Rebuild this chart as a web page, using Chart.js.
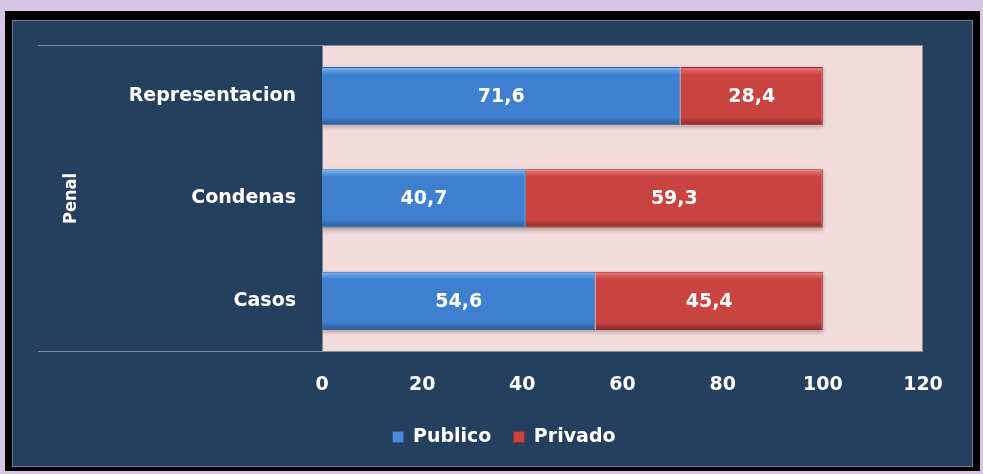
<!DOCTYPE html>
<html>
<head>
<meta charset="utf-8">
<script src="https://cdn.jsdelivr.net/npm/chart.js@4"></script>
<style>
  html, body { margin: 0; padding: 0; background: #d9c6e6; }
  #chart { display: block; }
</style>
</head>
<body>
<canvas id="chart" width="983" height="474"></canvas>
<script>
// Chart data
const categories = ['Representacion', 'Condenas', 'Casos'];
const groupLabel = 'Penal';
const publico = [71.6, 40.7, 54.6];
const privado = [28.4, 59.3, 45.4];
const seriesNames = ['Publico', 'Privado'];

const NAVY = '#25405f';
const PINK = '#f2dcdb';
const FONT = "'DejaVu Sans', Verdana, sans-serif";

// vertical bevel-like gradient for each bar
function barFill(light, body, dark) {
  return (ctx) => {
    const chart = ctx.chart;
    const yScale = chart.scales.y;
    if (!chart.chartArea || !yScale || ctx.dataIndex === undefined) return body;
    const yc = yScale.getPixelForValue(ctx.dataIndex);
    const half = (yScale.height / categories.length) * 0.57 / 2;
    const g = chart.ctx.createLinearGradient(0, yc - half, 0, yc + half);
    g.addColorStop(0, light);
    g.addColorStop(0.13, body);
    g.addColorStop(0.86, body);
    g.addColorStop(1, dark);
    return g;
  };
}

// frame, plot background, category lines and group label
const framePlugin = {
  id: 'frame',
  beforeDraw(chart) {
    const c = chart.ctx;
    const { left, right, top, bottom } = chart.chartArea;
    c.save();
    c.fillStyle = '#d9c6e6';
    c.fillRect(0, 0, chart.width, chart.height);
    c.fillStyle = '#000';
    c.fillRect(5, 11, 975, 460);
    c.fillStyle = NAVY;
    c.fillRect(12, 20, 961, 447);
    c.strokeStyle = '#6f7a9a';
    c.lineWidth = 1;
    c.strokeRect(12.5, 20.5, 960, 446);

    c.fillStyle = PINK;
    c.fillRect(left, top, right - left, bottom - top);
    c.strokeStyle = '#8a8a98';
    c.strokeRect(left + 0.5, top + 0.5, right - left - 1, bottom - top - 1);

    c.strokeStyle = '#7f8aa3';
    c.beginPath();
    c.moveTo(38, top + 0.5); c.lineTo(left, top + 0.5);
    c.moveTo(38, bottom - 0.5); c.lineTo(left, bottom - 0.5);
    c.stroke();

    c.translate(71, (top + bottom) / 2);
    c.rotate(-Math.PI / 2);
    c.fillStyle = '#fff';
    c.font = "bold 18px 'Liberation Sans Narrow', 'DejaVu Sans Condensed', sans-serif";
    c.textAlign = 'center';
    c.textBaseline = 'middle';
    c.fillText(groupLabel, 0, 0);
    c.restore();
  },
  beforeDatasetsDraw(chart) {
    // soft shadow under the bars
    const c = chart.ctx;
    c.save();
    c.shadowColor = 'rgba(60, 40, 40, 0.35)';
    c.shadowBlur = 4;
    c.shadowOffsetY = 2;
    c.fillStyle = PINK;
    chart.getDatasetMeta(0).data.forEach((bar, i) => {
      const last = chart.getDatasetMeta(1).data[i];
      c.fillRect(bar.base, bar.y - bar.height / 2, last.x - bar.base, bar.height);
    });
    c.restore();
  }
};

// value labels in the middle of each segment
const valueLabels = {
  id: 'valueLabels',
  afterDatasetsDraw(chart) {
    const c = chart.ctx;
    c.save();
    c.fillStyle = '#fff';
    c.font = 'bold 19px ' + FONT;
    c.textAlign = 'center';
    c.textBaseline = 'middle';
    chart.data.datasets.forEach((ds, di) => {
      chart.getDatasetMeta(di).data.forEach((bar, i) => {
        const x = (bar.x + bar.base) / 2;
        c.fillText(ds.data[i].toFixed(1).replace('.', ','), x, bar.y + 1);
      });
    });
    c.restore();
  }
};

new Chart(document.getElementById('chart'), {
  type: 'bar',
  data: {
    labels: categories,
    datasets: [
      {
        label: seriesNames[0],
        data: publico,
        backgroundColor: barFill('#7ab6f4', '#3f7fcf', '#2c5a95'),
        borderColor: '#2f609f',
        borderWidth: 1,
        barPercentage: 1,
        categoryPercentage: 0.57
      },
      {
        label: seriesNames[1],
        data: privado,
        backgroundColor: barFill('#f27e7a', '#c94341', '#8c2a29'),
        borderColor: '#8c2a29',
        borderWidth: 1,
        barPercentage: 1,
        categoryPercentage: 0.57
      }
    ]
  },
  options: {
    indexAxis: 'y',
    responsive: false,
    animation: false,
    layout: { padding: { top: 45, right: 0, bottom: 17.5, left: 25 } },
    scales: {
      x: {
        stacked: true,
        min: 0,
        max: 120,
        grid: { display: false, drawTicks: false },
        border: { display: false },
        ticks: {
          stepSize: 20,
          color: '#fff',
          padding: 22,
          font: { family: FONT, size: 19, weight: 'bold' }
        },
        afterFit: (s) => { s.height = 53.5; }
      },
      y: {
        stacked: true,
        grid: { display: false, drawTicks: false },
        border: { display: false },
        ticks: {
          color: '#fff',
          padding: 26,
          font: { family: FONT, size: 19, weight: 'bold' }
        },
        afterFit: (s) => { s.width = 297; }
      },
      yRight: {
        type: 'category',
        position: 'right',
        grid: { display: false, drawTicks: false },
        border: { display: false },
        ticks: { display: false },
        afterFit: (s) => { s.width = 60; }
      }
    },
    plugins: {
      legend: {
        position: 'bottom',
        labels: {
          color: '#fff',
          boxWidth: 11,
          boxHeight: 11,
          padding: 22,
          font: { family: FONT, size: 19, weight: 'bold' },
          generateLabels: (chart) => chart.data.datasets.map((ds, i) => ({
            text: ds.label,
            fillStyle: i === 0 ? '#4a8ad8' : '#c94341',
            strokeStyle: i === 0 ? '#2d5d9a' : '#8f2b2a',
            lineWidth: 1,
            fontColor: '#fff',
            datasetIndex: i
          }))
        }
      },
      tooltip: { enabled: false }
    }
  },
  plugins: [framePlugin, valueLabels]
});
</script>
</body>
</html>
